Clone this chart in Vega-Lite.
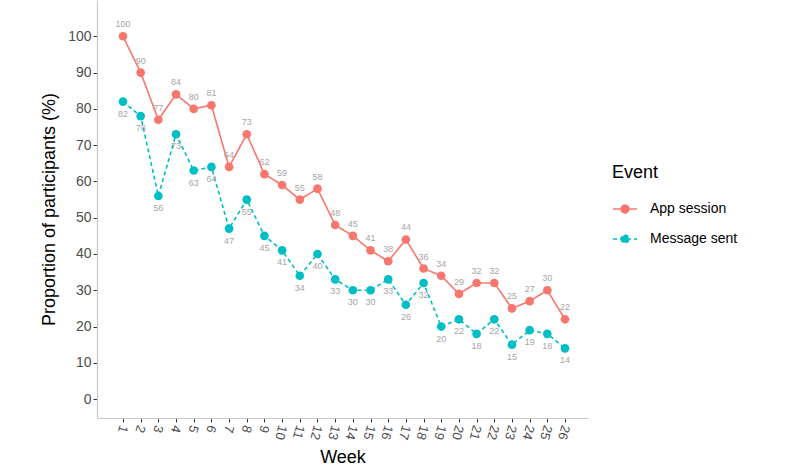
{
  "$schema": "https://vega.github.io/schema/vega-lite/v6.json",
  "width": 491,
  "height": 418,
  "autosize": {"type": "none"},
  "padding": {"left": 97, "top": 0, "right": 212, "bottom": 49},
  "background": "white",
  "config": {
    "font": "Liberation Sans",
    "view": {"stroke": null},
    "axis": {"grid": false, "domainColor": "#c8c8c8", "domainWidth": 1.2, "tickColor": "#333333", "tickSize": 4, "labelColor": "#4d4d4d", "labelFontSize": 14, "titleFontSize": 18, "titleFontWeight": "normal", "titleColor": "#000000"}
  },
  "data": {
    "values": [
      {"week": 1, "event": "App session", "value": 100},
      {"week": 2, "event": "App session", "value": 90},
      {"week": 3, "event": "App session", "value": 77},
      {"week": 4, "event": "App session", "value": 84},
      {"week": 5, "event": "App session", "value": 80},
      {"week": 6, "event": "App session", "value": 81},
      {"week": 7, "event": "App session", "value": 64},
      {"week": 8, "event": "App session", "value": 73},
      {"week": 9, "event": "App session", "value": 62},
      {"week": 10, "event": "App session", "value": 59},
      {"week": 11, "event": "App session", "value": 55},
      {"week": 12, "event": "App session", "value": 58},
      {"week": 13, "event": "App session", "value": 48},
      {"week": 14, "event": "App session", "value": 45},
      {"week": 15, "event": "App session", "value": 41},
      {"week": 16, "event": "App session", "value": 38},
      {"week": 17, "event": "App session", "value": 44},
      {"week": 18, "event": "App session", "value": 36},
      {"week": 19, "event": "App session", "value": 34},
      {"week": 20, "event": "App session", "value": 29},
      {"week": 21, "event": "App session", "value": 32},
      {"week": 22, "event": "App session", "value": 32},
      {"week": 23, "event": "App session", "value": 25},
      {"week": 24, "event": "App session", "value": 27},
      {"week": 25, "event": "App session", "value": 30},
      {"week": 26, "event": "App session", "value": 22},
      {"week": 1, "event": "Message sent", "value": 82},
      {"week": 2, "event": "Message sent", "value": 78},
      {"week": 3, "event": "Message sent", "value": 56},
      {"week": 4, "event": "Message sent", "value": 73},
      {"week": 5, "event": "Message sent", "value": 63},
      {"week": 6, "event": "Message sent", "value": 64},
      {"week": 7, "event": "Message sent", "value": 47},
      {"week": 8, "event": "Message sent", "value": 55},
      {"week": 9, "event": "Message sent", "value": 45},
      {"week": 10, "event": "Message sent", "value": 41},
      {"week": 11, "event": "Message sent", "value": 34},
      {"week": 12, "event": "Message sent", "value": 40},
      {"week": 13, "event": "Message sent", "value": 33},
      {"week": 14, "event": "Message sent", "value": 30},
      {"week": 15, "event": "Message sent", "value": 30},
      {"week": 16, "event": "Message sent", "value": 33},
      {"week": 17, "event": "Message sent", "value": 26},
      {"week": 18, "event": "Message sent", "value": 32},
      {"week": 19, "event": "Message sent", "value": 20},
      {"week": 20, "event": "Message sent", "value": 22},
      {"week": 21, "event": "Message sent", "value": 18},
      {"week": 22, "event": "Message sent", "value": 22},
      {"week": 23, "event": "Message sent", "value": 15},
      {"week": 24, "event": "Message sent", "value": 19},
      {"week": 25, "event": "Message sent", "value": 18},
      {"week": 26, "event": "Message sent", "value": 14}
    ]
  },
  "encoding": {
    "x": {"field": "week", "type": "quantitative", "scale": {"domain": [-0.47, 27.3], "nice": false, "zero": false},
      "axis": {"values": [1,2,3,4,5,6,7,8,9,10,11,12,13,14,15,16,17,18,19,20,21,22,23,24,25,26], "title": "Week", "labelAngle": 105, "labelFontSize": 13, "labelPadding": 3, "titlePadding": 8}},
    "y": {"field": "value", "type": "quantitative", "scale": {"domain": [-5.2, 110], "nice": false, "zero": false},
      "axis": {"values": [0,10,20,30,40,50,60,70,80,90,100], "title": "Proportion of participants (%)", "titlePadding": 9}}
  },
  "layer": [
    {
      "mark": {"type": "line", "strokeWidth": 1.6},
      "encoding": {
        "color": {"field": "event", "type": "nominal", "title": "Event",
          "scale": {"domain": ["App session", "Message sent"], "range": ["#F8766D", "#00BFC4"]},
          "legend": {"orient": "none", "legendX": 515, "legendY": 164, "titleFontSize": 18, "titleFontWeight": "normal", "titleColor": "#000000", "titlePadding": 14,
            "labelFontSize": 14, "labelColor": "#000000", "labelOffset": 12, "rowPadding": 9,
            "symbolType": "M-1,0L1,0M-0.32,0A0.32,0.32 0 1 0 0.32,0A0.32,0.32 0 1 0 -0.32,0",
            "symbolSize": 576, "symbolStrokeWidth": 1.6,
            "encode": {"symbols": {"update": {"fill": {"scale": "color", "field": "value"}}}}}},
        "strokeDash": {"field": "event", "type": "nominal", "title": "Event",
          "scale": {"domain": ["App session", "Message sent"], "range": [[1, 0], [4, 3]]}}
      }
    },
    {
      "mark": {"type": "point", "filled": true, "opacity": 1, "size": 75},
      "encoding": {
        "color": {"field": "event", "type": "nominal", "legend": null}
      }
    },
    {
      "transform": [{"filter": "datum.event === 'App session'"}],
      "mark": {"type": "text", "dy": -12, "fontSize": 9, "color": "#a6a6a6"},
      "encoding": {"text": {"field": "value", "type": "quantitative"}}
    },
    {
      "transform": [{"filter": "datum.event === 'Message sent'"}],
      "mark": {"type": "text", "dy": 12, "fontSize": 9, "color": "#a6a6a6"},
      "encoding": {"text": {"field": "value", "type": "quantitative"}}
    }
  ]
}
